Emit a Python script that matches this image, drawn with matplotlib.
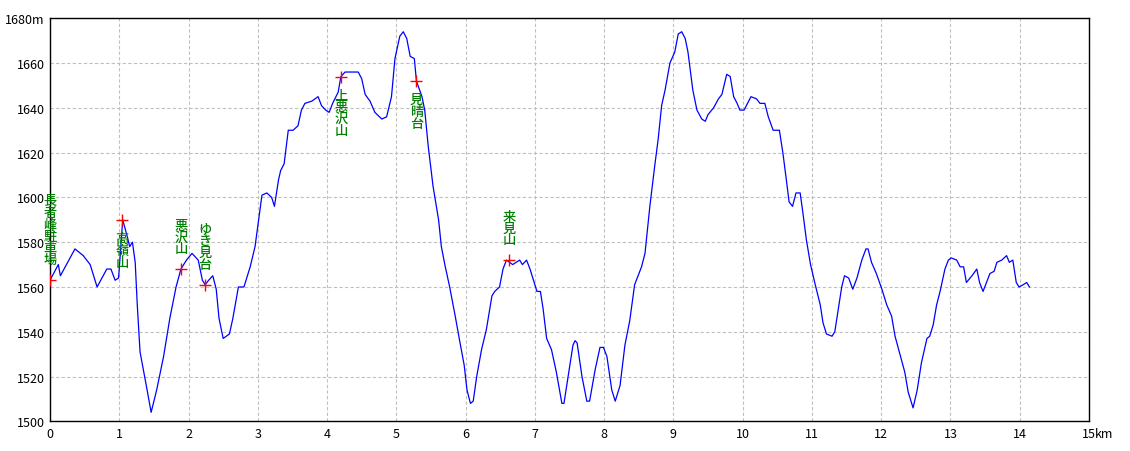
import matplotlib
matplotlib.use('Agg')
import matplotlib.pyplot as plt

plt.rcParams['font.family'] = ['Noto Sans CJK JP', 'DejaVu Sans']

# elevation profile (km, m)
dist = [0.00, 0.12, 0.15, 0.36, 0.48, 0.58, 0.68, 0.82, 0.88, 0.94, 0.99,
        1.05, 1.12, 1.15, 1.19, 1.23, 1.26, 1.30, 1.39, 1.46, 1.54, 1.64,
        1.73, 1.82, 1.89, 1.97, 2.05, 2.14, 2.20, 2.24, 2.29, 2.35, 2.40,
        2.44, 2.50, 2.59, 2.64, 2.72, 2.80, 2.89, 2.96, 3.03, 3.06, 3.13,
        3.20, 3.24, 3.30, 3.33, 3.38, 3.44, 3.51, 3.58, 3.63, 3.68, 3.78,
        3.87, 3.92, 3.98, 4.03, 4.08, 4.16, 4.20, 4.26, 4.45, 4.50, 4.55,
        4.62, 4.69, 4.79, 4.86, 4.93, 4.98, 5.05, 5.10, 5.15, 5.20, 5.26,
        5.29, 5.37, 5.41, 5.46, 5.53, 5.61, 5.65, 5.70, 5.77, 5.85, 5.92,
        5.98, 6.02, 6.07, 6.11, 6.16, 6.23, 6.30, 6.38, 6.42, 6.49, 6.54,
        6.59, 6.68, 6.78, 6.82, 6.88, 6.93, 7.03, 7.08, 7.12, 7.17, 7.24,
        7.31, 7.39, 7.42, 7.48, 7.55, 7.58, 7.61, 7.68, 7.75, 7.79, 7.87,
        7.94, 7.99, 8.04, 8.11, 8.16, 8.23, 8.30, 8.37, 8.44, 8.54, 8.59,
        8.66, 8.73, 8.78, 8.83, 8.88, 8.95, 9.02, 9.07, 9.12, 9.17, 9.21,
        9.28, 9.34, 9.41, 9.46, 9.50, 9.58, 9.65, 9.70, 9.77, 9.82, 9.87,
        9.92, 9.96, 10.02, 10.12, 10.20, 10.25, 10.32, 10.37, 10.44, 10.53,
        10.58, 10.63, 10.67, 10.72, 10.77, 10.83, 10.87, 10.92, 10.98,
        11.04, 11.12, 11.16, 11.21, 11.29, 11.33, 11.38, 11.43, 11.47,
        11.53, 11.59, 11.65, 11.72, 11.78, 11.81, 11.86, 11.93, 12.01,
        12.08, 12.15, 12.20, 12.27, 12.34, 12.39, 12.46, 12.52, 12.58,
        12.66, 12.70, 12.75, 12.80, 12.85, 12.92, 12.97, 13.01, 13.09,
        13.14, 13.19, 13.23, 13.31, 13.38, 13.42, 13.47, 13.52, 13.57,
        13.63, 13.67, 13.74, 13.81, 13.85, 13.90, 13.95, 13.99, 14.05,
        14.10, 14.14]
elev = [1563, 1570, 1565, 1577, 1574, 1570, 1560, 1568, 1568, 1563, 1564,
        1590, 1582, 1578, 1580, 1571, 1552, 1531, 1516, 1504, 1514, 1529,
        1546, 1560, 1568, 1572, 1575, 1572, 1563, 1561, 1563, 1565, 1559,
        1546, 1537, 1539, 1546, 1560, 1560, 1569, 1578, 1594, 1601, 1602,
        1600, 1596, 1608, 1612, 1615, 1630, 1630, 1632, 1639, 1642, 1643,
        1645, 1641, 1639, 1638, 1642, 1647, 1654, 1656, 1656, 1653, 1646,
        1643, 1638, 1635, 1636, 1645, 1662, 1672, 1674, 1671, 1663, 1662,
        1652, 1645, 1639, 1623, 1605, 1590, 1578, 1570, 1560, 1547, 1535,
        1525, 1514, 1508, 1509, 1520, 1532, 1541, 1556, 1558, 1560, 1568,
        1572, 1570, 1572, 1570, 1572, 1568, 1558, 1558, 1550, 1537, 1532,
        1522, 1508, 1508, 1520, 1534, 1536, 1535, 1520, 1509, 1509, 1523,
        1533, 1533, 1529, 1514, 1509, 1516, 1534, 1545, 1561, 1569, 1575,
        1596, 1614, 1626, 1641, 1648, 1660, 1665, 1673, 1674, 1671, 1665,
        1648, 1639, 1635, 1634, 1637, 1640, 1644, 1646, 1655, 1654, 1645,
        1642, 1639, 1639, 1645, 1644, 1642, 1642, 1636, 1630, 1630,
        1620, 1608, 1598, 1596, 1602, 1602, 1593, 1581, 1570,
        1562, 1552, 1544, 1539, 1538, 1540, 1550, 1560, 1565,
        1564, 1559, 1564, 1572, 1577, 1577, 1571, 1566, 1559,
        1552, 1547, 1538, 1530, 1522, 1513, 1506, 1514, 1526,
        1537, 1538, 1543, 1552, 1558, 1568, 1572, 1573, 1572,
        1569, 1569, 1562, 1565, 1568, 1562, 1558, 1562, 1566,
        1567, 1571, 1572, 1574, 1571, 1572, 1562, 1560, 1561,
        1562, 1560]

# waypoints
wp_names = ['長者峰駐車場', '高嶺山', '悪沢山', 'ゆき見台', '上悪沢山', '見晴台', '来見山']
wp_dist = [0.00, 1.04, 1.89, 2.24, 4.20, 5.29, 6.63]
wp_elev = [1563, 1590, 1568, 1561, 1654, 1652, 1572]
wp_above = [True, False, True, True, False, False, True]

xticks = list(range(16))
xlabels = [str(v) for v in range(15)] + ['15']
yticks = list(range(1500, 1681, 20))
ylabels = [str(v) for v in yticks[:-1]] + ['1680m']

fig = plt.figure(figsize=(11.3, 4.52), dpi=100)
ax = fig.add_axes([50 / 1130, 1 - 422.3 / 452, 1039 / 1130, 403 / 452])

ax.plot(dist, elev, color='#0000ff', lw=0.9, zorder=3)
ax.plot(wp_dist, wp_elev, '+', color='#ff0000', ms=9, mew=1, zorder=4)

for name, x, y, up in zip(wp_names, wp_dist, wp_elev, wp_above):
    txt = '\n'.join(name)
    if up:
        ax.annotate(txt, xy=(x, y), xytext=(0, 10), textcoords='offset points',
                    ha='center', va='bottom', color='#008000', fontsize=9.5,
                    fontweight='medium', linespacing=0.8, zorder=5)
    else:
        ax.annotate(txt, xy=(x, y), xytext=(0, -8), textcoords='offset points',
                    ha='center', va='top', color='#008000', fontsize=9.5,
                    fontweight='medium', linespacing=0.8, zorder=5)

ax.set_xlim(0, 15)
ax.set_ylim(1500, 1680)
ax.set_xticks(xticks)
ax.set_xticklabels(xlabels)
ax.set_yticks(yticks)
ax.set_yticklabels(ylabels)
ax.tick_params(length=0, labelsize=9, pad=4)
ax.annotate('km', xy=(15, 1500), xytext=(4.5, -4), textcoords='offset points',
            ha='left', va='top', fontsize=9, annotation_clip=False)

ax.grid(True, color='#c0c0c0', linestyle=(0, (3, 2)), lw=0.8)
ax.set_axisbelow(True)
for s in ax.spines.values():
    s.set_color('black')
    s.set_linewidth(1.0)

fig.savefig('out.png', dpi=100)
